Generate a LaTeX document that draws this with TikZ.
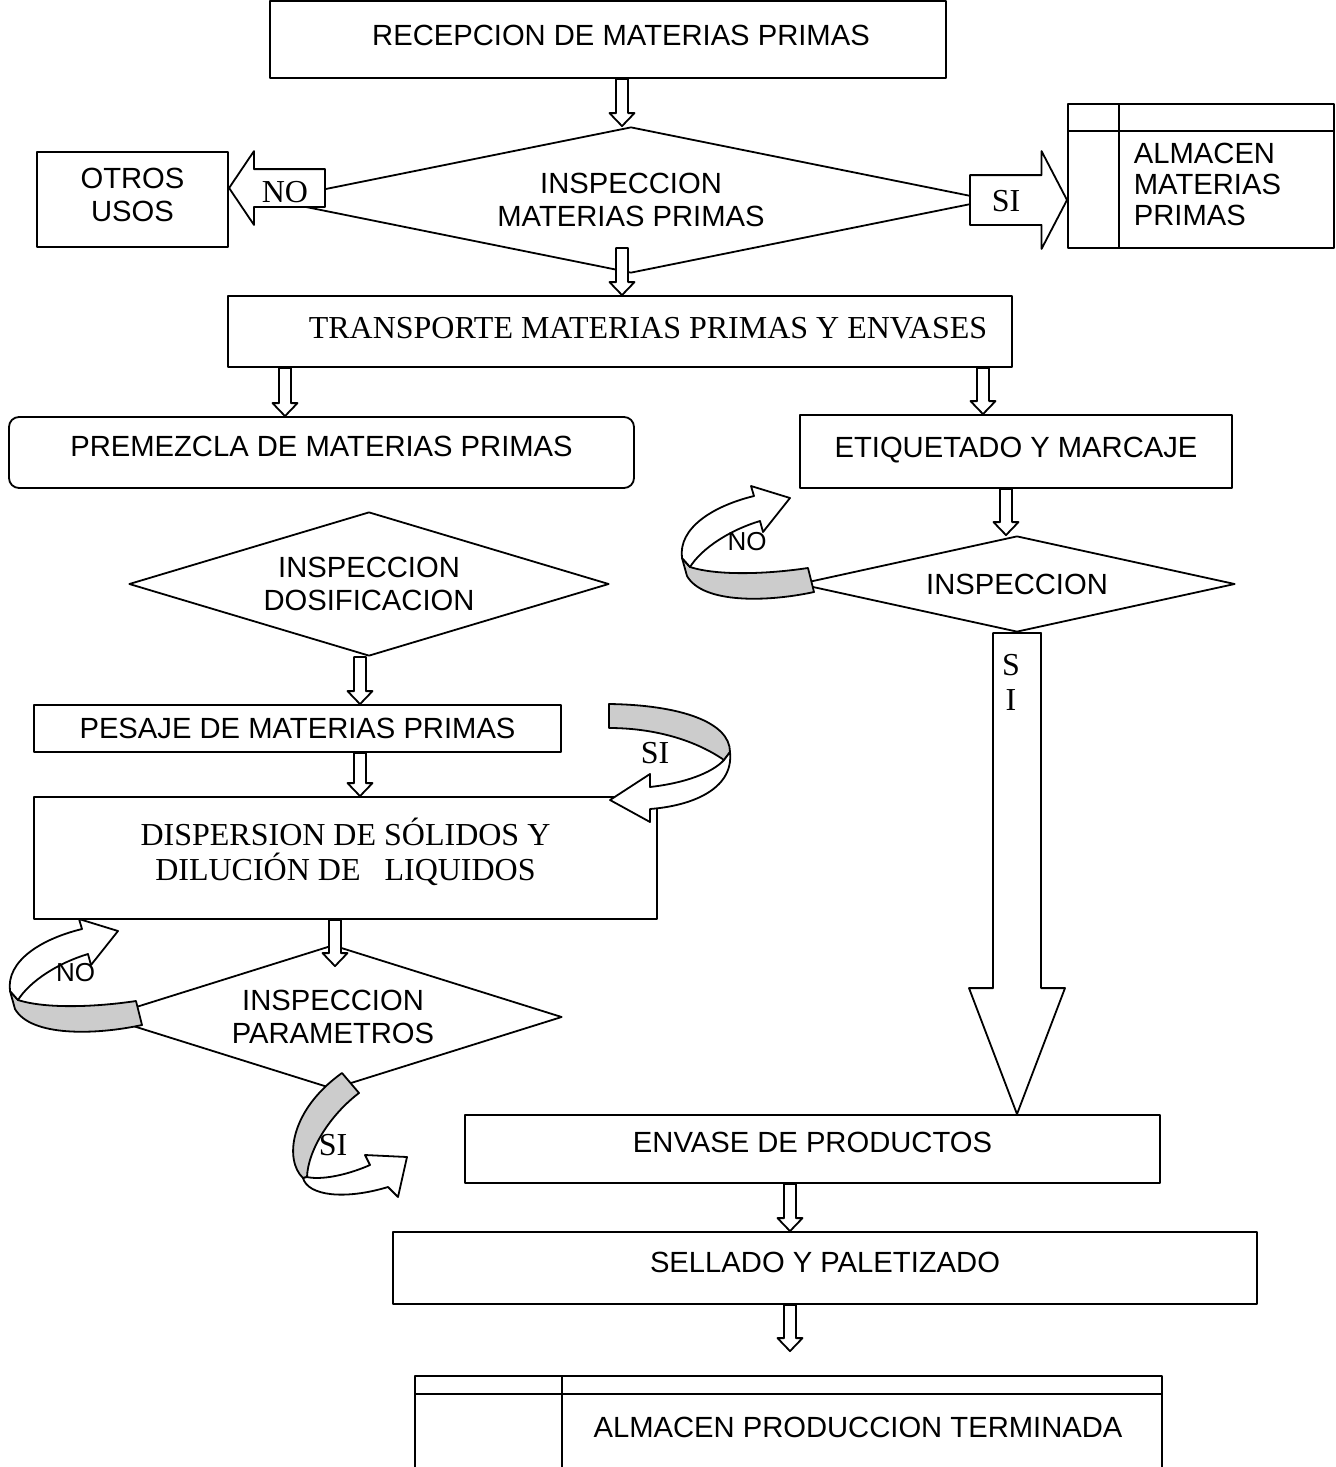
\documentclass[tikz,border=0pt]{standalone}
\usepackage{fontspec}
\setmainfont{Liberation Serif}
\setsansfont{Liberation Sans}
\usetikzlibrary{calc,shapes.geometric,shapes.arrows}
\begin{document}
\begin{tikzpicture}[x=.5pt, y=-.5pt, line width=.9pt, line join=round,
	font=\sffamily\fontsize{14.6}{16.5}\selectfont,
	box/.style={draw, rectangle, inner sep=0pt, align=center},
	dec/.style={draw, diamond, inner sep=0pt, align=center},
	tnr/.style={font=\rmfamily\fontsize{16}{17.5}\selectfont},
	small/.style={font=\sffamily\fontsize{13}{15}\selectfont},
	flow/.style={draw, fill=white, to path={let \p1=(\tikztostart), \p2=(\tikztotarget) in
		(\x1-3pt,\y1) -- (\x1-3pt,\y2+6.5pt) -- (\x1-6.25pt,\y2+6.5pt) -- (\x1,\y2)
		-- (\x1+6.25pt,\y2+6.5pt) -- (\x1+3pt,\y2+6.5pt) -- (\x1+3pt,\y1) -- cycle}},
	bigflow/.style={draw, fill=white, to path={let \p1=(\tikztostart), \p2=(\tikztotarget) in
		(\x1-12pt,\y1) -- (\x1-12pt,\y2+63pt) -- (\x1-24pt,\y2+63pt) -- (\x1,\y2)
		-- (\x1+24pt,\y2+63pt) -- (\x1+12pt,\y2+63pt) -- (\x1+12pt,\y1) -- cycle}},
	blk/.style={draw, fill=white, single arrow, inner xsep=0pt},
	uturn/.pic={
		\draw[fill=gray!40] (-126,-10) -- (-118,-1) .. controls (-90,8) and (-40,6) .. (0,0) -- (6,24)
			.. controls (-40,34) and (-105,36) .. (-121,8) -- cycle;
		\draw[fill=white] (-126,-10) .. controls (-130,-40) and (-95,-62) .. (-54,-72) -- (-57,-82)
			-- (-18,-70) -- (-45,-36) -- (-48,-47) .. controls (-78,-38) and (-106,-20) .. (-118,-1) -- cycle;
	}]
	\useasboundingbox (0,0) rectangle (1335,1467);
	\node[box, text depth=4pt, minimum width=338pt, minimum height=38.5pt] (recep) at (608,39.5) {\hspace*{13pt}RECEPCION DE MATERIAS PRIMAS};
	\node[dec, aspect=4.93, minimum width=360pt, minimum height=73pt] (d1) at (631,200) {INSPECCION\\MATERIAS PRIMAS};
	\node[box, text depth=5pt, minimum width=95.5pt, minimum height=47.5pt] (otros) at (132.5,199.5) {OTROS\\USOS};
	\node[box, minimum width=133pt, minimum height=72pt] (alm1) at (1201,176) {};
	\draw ($(alm1.north west)+(0,28)$) -- ($(alm1.north east)+(0,28)$);
	\draw ($(alm1.north west)+(52,0)$) -- ($(alm1.south west)+(52,0)$);
	\node[align=left, anchor=west, inner sep=0pt, font=\sffamily\fontsize{14.6}{15.5}\selectfont] (alm1txt) at (1133,184) {ALMACEN\\MATERIAS\\PRIMAS};
	\node[blk, shape border rotate=180, inner ysep=9pt, single arrow head extend=9pt, single arrow tip angle=112,
		minimum height=48pt, anchor=tip] (noarr) at (228,188) {};
	\node[tnr] (notxt) at (285,192) {NO};
	\node[blk, inner ysep=12pt, single arrow head extend=12pt, single arrow tip angle=125,
		minimum height=48.5pt, anchor=tip] (siarr) at (1068,200) {};
	\node[tnr] (sitxt) at (1006,201) {SI};
	\node[box, tnr, text depth=4pt, minimum width=392pt, minimum height=35.5pt] (transp) at (620,331.5) {\hspace*{28pt}TRANSPORTE MATERIAS PRIMAS Y ENVASES};
	\node[box, text depth=6pt, rounded corners=5pt, minimum width=312.5pt, minimum height=35.5pt] (premez) at (321.5,452.5) {PREMEZCLA DE MATERIAS PRIMAS};
	\node[box, text depth=4pt, minimum width=216pt, minimum height=36.5pt] (etiq) at (1016,451.5) {ETIQUETADO Y MARCAJE};
	\node[dec, aspect=3.33, minimum width=240pt, minimum height=72pt] (d2) at (369,584) {INSPECCION\\DOSIFICACION};
	\node[dec, aspect=4.54, minimum width=218pt, minimum height=48pt] (d3) at (1017,584) {INSPECCION};
	\node[box, minimum width=263.5pt, minimum height=23.5pt] (pesaje) at (297.5,728.5) {PESAJE DE MATERIAS PRIMAS};
	\node[box, tnr, text depth=9pt, minimum width=311.5pt, minimum height=61pt] (disp) at (345.5,858) {DISPERSION DE SÓLIDOS Y\\DILUCIÓN DE~~~LIQUIDOS};
	\node[dec, aspect=3.18, minimum width=229pt, minimum height=72pt] (d4) at (333,1017) {INSPECCION\\PARAMETROS};
	\node[box, text depth=7pt, minimum width=347.5pt, minimum height=34pt] (envase) at (812.5,1149) {ENVASE DE PRODUCTOS};
	\node[box, text depth=6pt, minimum width=432pt, minimum height=36pt] (sellado) at (825,1268) {SELLADO Y PALETIZADO};
	\node[box, minimum width=373.5pt, minimum height=49.5pt] (almprod) at (788.5,1425.5) {};
	\draw ($(almprod.north west)+(0,19)$) -- ($(almprod.north east)+(0,19)$);
	\draw ($(almprod.north west)+(148,0)$) -- ($(almprod.south west)+(148,0)$);
	\node (almprodtxt) at (858,1427) {ALMACEN PRODUCCION TERMINADA};
	\draw[flow] ([xshift=7pt]recep.south) to (d1.north);
	\draw[flow] ([xshift=-4.5pt,yshift=-24pt]d1.center) to (transp.north);
	\draw[flow] ($(transp.south -| premez.north)+(-36.5,0)$) to (premez.north);
	\draw[flow] ($(transp.south -| etiq.north)+(-33,0)$) to (etiq.north);
	\draw[flow] ($(etiq.south)+(-10,0)$) to (d3.north);
	\draw[flow] ($(d2.south)+(-9,0)$) to (pesaje.north);
	\draw[flow] ($(pesaje.south -| d2.south)+(-9,0)$) to (disp.north);
	\draw[flow] ($(disp.south -| d4.north)+(2,0)$) to ($(d4.north)+(0,22)$);
	\draw[bigflow] (d3.south) to (envase.north);
	\node[tnr, align=center] (sitxt2) at (1011,682) {S\\I};
	\draw[flow] ($(envase.south)+(-22.5,0)$) to (sellado.north);
	\draw[flow] ($(sellado.south)+(-35,0)$) to ($(almprod.north)+(0,-24)$);
	\pic (loopa) at (808,568) {uturn};
	\node[small] (loopatxt) at (747,542) {NO};
	\pic (loopb) at (136,1001) {uturn};
	\node[small] (loopbtxt) at (75.5,973) {NO};
	\draw[fill=gray!40] (609,704) .. controls (680,705) and (730,722) .. (730,752) -- (724,760)
		.. controls (692,738) and (650,728) .. (609,728) -- cycle;
	\draw[fill=white] (730,752) .. controls (734,790) and (690,806) .. (650,809) -- (650,822) -- (610,800)
		-- (650,774) -- (650,787) .. controls (685,783) and (712,773) .. (724,760) -- cycle;
	\node[tnr] (loopctxt) at (655,753) {SI};
	\draw[fill=gray!40] (342,1073) -- (359,1093) .. controls (330,1115) and (308,1150) .. (307,1177) -- (303,1178)
		.. controls (284,1160) and (290,1110) .. (342,1073) -- cycle;
	\draw[fill=white] (303,1178) .. controls (308,1196) and (345,1200) .. (388,1187) -- (398,1197) -- (407,1157)
		-- (365,1155) -- (370,1165) .. controls (345,1176) and (320,1180) .. (307,1177) -- cycle;
	\node[tnr] (loopdtxt) at (333,1145) {SI};
\end{tikzpicture}
\end{document}
